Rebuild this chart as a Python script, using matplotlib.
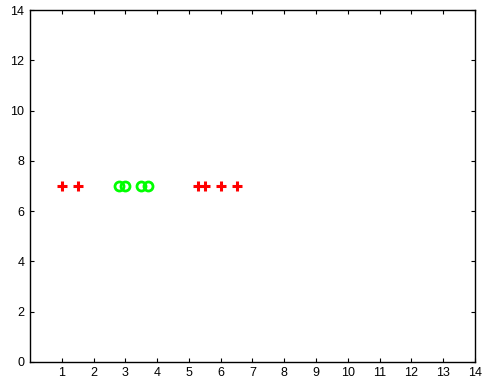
import matplotlib.pyplot as plt

plus_x = [1.0, 1.5, 5.3, 5.5, 6.0, 6.5]
plus_y = [7, 7, 7, 7, 7, 7]
circle_x = [2.8, 3.0, 3.5, 3.7]
circle_y = [7, 7, 7, 7]
x_ticks = list(range(1, 15))
y_ticks = list(range(0, 15, 2))

plt.rcParams['font.family'] = ['Liberation Sans', 'DejaVu Sans']

fig = plt.figure(figsize=(4.85, 3.85), dpi=100)
ax = fig.add_axes([0.062, 0.06, 0.917, 0.914])
ax.plot(plus_x, plus_y, linestyle='none', marker='+', color='red',
        markersize=7, markeredgewidth=2.2)
ax.plot(circle_x, circle_y, linestyle='none', marker='o', markerfacecolor='none',
        markeredgecolor='#00ff00', markersize=6.5, markeredgewidth=2.0)

ax.set_xlim(0, 14)
ax.set_ylim(0, 14)
ax.set_xticks(x_ticks)
ax.set_yticks(y_ticks)
ax.tick_params(direction='in', top=True, right=True, length=3, width=0.8,
               labelsize=9, pad=4)
for s in ax.spines.values():
    s.set_linewidth(1.0)

fig.savefig('out.png', dpi=100)
